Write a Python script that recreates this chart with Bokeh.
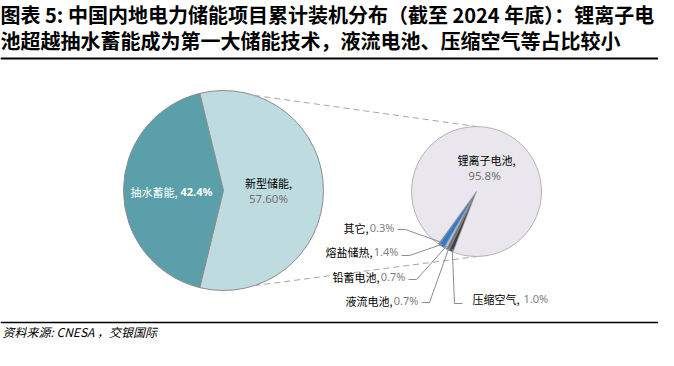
import numpy as np
from bokeh.plotting import figure
from bokeh.models import Range1d
from bokeh.core.properties import value
from bokeh.embed import file_html
from bokeh.resources import INLINE

# ---------------- data ----------------
title_lines = ["图表 5: 中国内地电力储能项目累计装机分布（截至 2024 年底）：锂离子电",
               "池超越抽水蓄能成为第一大储能技术，液流电池、压缩空气等占比较小"]
source_note = "资料来源: CNESA ，交银国际"

main_names = ["抽水蓄能", "新型储能"]
main_values = [42.4, 57.6]
main_labels = ["42.4%", "57.60%"]

sub_names = ["其它", "熔盐储热", "铅蓄电池", "液流电池", "压缩空气", "锂离子电池"]
sub_values = [0.3, 1.4, 0.7, 0.7, 1.0, 95.8]
sub_labels = ["0.3%", "1.4%", "0.7%", "0.7%", "1.0%", "95.8%"]

main_colors = ["#5B9FAA", "#BEDCE0"]
sub_colors = ["#7A7A7A", "#2F7BD4", "#A9C4E0", "#6F6F6F", "#3F3F46", "#E9E7ED"]

CJK = value("Noto Sans CJK SC")
LAT = value("Noto Sans")

# ---------------- figure ----------------
W, H = 658, 350
p = figure(width=W, height=H, output_backend="svg", toolbar_location=None,
           x_axis_type=None, y_axis_type=None, min_border=0,
           x_range=Range1d(3, 3 + W), y_range=Range1d(8, 8 + H))
p.grid.visible = False
p.outline_line_color = None
p.background_fill_color = "white"


def Y(py):
    return 366 - py


# ---- main pie ----
cx1, cy1, r1 = 226, Y(198), 100
mv = np.array(main_values, dtype=float)
ang = mv / mv.sum() * 2 * np.pi
start0 = np.pi - ang[0] / 2
ends = start0 + np.cumsum(ang)
starts = ends - ang
p.wedge(x=cx1, y=cy1, radius=r1, start_angle=starts, end_angle=ends,
        fill_color=main_colors, line_color="#8C8C8C", line_width=1)

# ---- secondary pie ----
cx2, cy2, r2 = 479, Y(199), 65
sv = np.array(sub_values, dtype=float)
ang2 = sv / sv.sum() * 2 * np.pi
start2 = np.deg2rad(234)
ends2 = start2 + np.cumsum(ang2)
starts2 = ends2 - ang2
p.wedge(x=cx2, y=cy2, radius=r2, start_angle=starts2, end_angle=ends2,
        fill_color=sub_colors, line_color="#8A8A8A", line_width=0.6)

# ---- connector dashed lines ----
a_c = np.deg2rad(72)
p.multi_line(xs=[[cx1 + r1 * np.cos(a_c), cx2], [cx1 + r1 * np.cos(-a_c), cx2]],
             ys=[[cy1 + r1 * np.sin(a_c), cy2 + r2], [cy1 + r1 * np.sin(-a_c), cy2 - r2]],
             line_color="#A6A6A6", line_width=1, line_dash="6 4")

# ---- main pie labels ----
p.text(x=[180], y=[Y(199)], text=[main_names[0] + ","], text_font=CJK, text_font_size="11px",
       text_color="white", text_align="right", text_baseline="middle")
p.text(x=[183], y=[Y(199)], text=[main_labels[0]], text_font=LAT, text_font_size="11px",
       text_font_style="bold", text_color="white", text_align="left", text_baseline="middle")
p.text(x=[271], y=[Y(190)], text=[main_names[1] + ","], text_font=CJK, text_font_size="11px",
       text_color="black", text_align="center", text_baseline="middle")
p.text(x=[271], y=[Y(206)], text=[main_labels[1]], text_font=LAT, text_font_size="11.5px",
       text_color="#6E6E6E", text_align="center", text_baseline="middle")

# ---- lithium label ----
p.text(x=[489], y=[Y(167)], text=[sub_names[5] + ","], text_font=CJK, text_font_size="11px",
       text_color="black", text_align="center", text_baseline="middle")
p.text(x=[487], y=[Y(183)], text=[sub_labels[5]], text_font=LAT, text_font_size="11.5px",
       text_color="#6E6E6E", text_align="center", text_baseline="middle")

# ---- small slice labels (left side) ----
lab_end = [397, 401, 408, 421]
lab_y = [235, 259, 284, 308]
lead_y = [237, 263, 287, 310]
p.text(x=lab_end, y=[Y(v) for v in lab_y], text=sub_labels[:4], text_font=LAT,
       text_font_size="11px", text_color="#7F7F7F", text_align="right", text_baseline="middle")
p.text(x=[e - 26 for e in lab_end], y=[Y(v) for v in lab_y], text=[n + "," for n in sub_names[:4]],
       text_font=CJK, text_font_size="11px", text_color="black", text_align="right",
       text_baseline="middle")
# right-side label
p.text(x=[475], y=[Y(306)], text=[sub_names[4] + ","], text_font=CJK, text_font_size="11px",
       text_color="black", text_align="left", text_baseline="middle")
p.text(x=[526], y=[Y(306)], text=[sub_labels[4]], text_font=LAT, text_font_size="11px",
       text_color="#7F7F7F", text_align="left", text_baseline="middle")

# leaders
mids = (starts2 + ends2) / 2
rl = 62
xs, ys = [], []
for i in range(4):
    ex, ey = cx2 + rl * np.cos(mids[i]), cy2 + rl * np.sin(mids[i])
    xs.append([lab_end[i] + 3, lab_end[i] + 11, ex])
    ys.append([Y(lead_y[i]), Y(lead_y[i]), ey])
ex, ey = cx2 + rl * np.cos(mids[4]), cy2 + rl * np.sin(mids[4])
xs.append([465, 457, ex])
ys.append([Y(311), Y(311), ey])
p.multi_line(xs=xs, ys=ys, line_color="#8C8C8C", line_width=1)

# ---- title, rules, source ----
p.text(x=[3, 3], y=[Y(22), Y(48)], text=title_lines, text_font=CJK, text_font_size="20px",
       text_font_style="bold", text_color="black", text_align="left", text_baseline="middle")
p.segment(x0=[3], y0=[Y(66)], x1=[668], y1=[Y(66)], line_color="black", line_width=2)
p.segment(x0=[3], y0=[Y(330)], x1=[668], y1=[Y(330)], line_color="black", line_width=1.5)
p.text(x=[5], y=[Y(339)], text=[source_note], text_font=CJK, text_font_size="12px",
       text_font_style="italic", text_color="black", text_align="left", text_baseline="middle")

open("out.html", "w").write(file_html(p, INLINE))
